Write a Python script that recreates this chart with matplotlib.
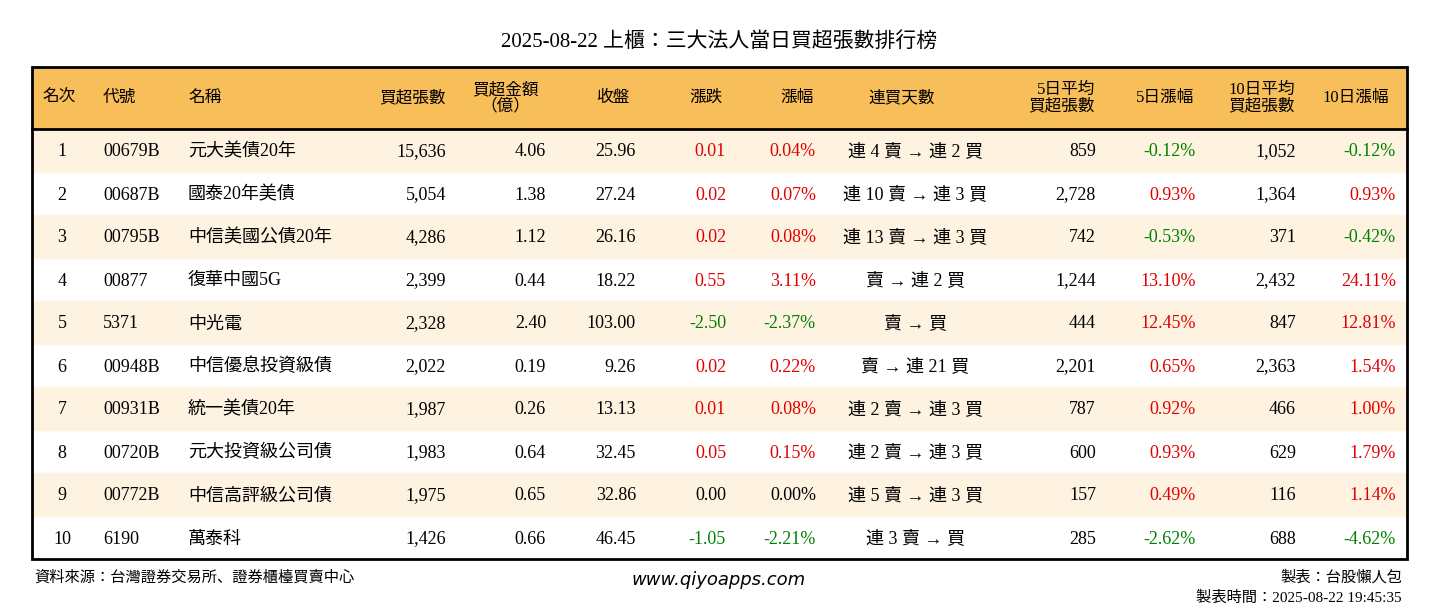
import matplotlib.pyplot as plt
from matplotlib.patches import Rectangle

ranks = [1, 2, 3, 4, 5, 6, 7, 8, 9, 10]
codes = ["00679B", "00687B", "00795B", "00877", "5371", "00948B", "00931B", "00720B", "00772B", "6190"]
names = ["元大美債20年", "國泰20年美債", "中信美國公債20年", "復華中國5G", "中光電",
         "中信優息投資級債", "統一美債20年", "元大投資級公司債", "中信高評級公司債", "萬泰科"]
net_buy = [15636, 5054, 4286, 2399, 2328, 2022, 1987, 1983, 1975, 1426]
amount = [4.06, 1.38, 1.12, 0.44, 2.40, 0.19, 0.26, 0.64, 0.65, 0.66]
close = [25.96, 27.24, 26.16, 18.22, 103.00, 9.26, 13.13, 32.45, 32.86, 46.45]
change = [0.01, 0.02, 0.02, 0.55, -2.50, 0.02, 0.01, 0.05, 0.00, -1.05]
pct = [0.04, 0.07, 0.08, 3.11, -2.37, 0.22, 0.08, 0.15, 0.00, -2.21]
streak = ["連 4 賣 → 連 2 買", "連 10 賣 → 連 3 買", "連 13 賣 → 連 3 買", "賣 → 連 2 買", "賣 → 買",
          "賣 → 連 21 買", "連 2 賣 → 連 3 買", "連 2 賣 → 連 3 買", "連 5 賣 → 連 3 買", "連 3 賣 → 買"]
avg5 = [859, 2728, 742, 1244, 444, 2201, 787, 600, 157, 285]
pct5 = [-0.12, 0.93, -0.53, 13.10, 12.45, 0.65, 0.92, 0.93, 0.49, -2.62]
avg10 = [1052, 1364, 371, 2432, 847, 2363, 466, 629, 116, 688]
pct10 = [-0.12, 0.93, -0.42, 24.11, 12.81, 1.54, 1.00, 1.79, 1.14, -4.62]

plt.rcParams["font.family"] = ["Liberation Serif", "Noto Sans CJK JP"]

W, H = 1438, 612
fig = plt.figure(figsize=(W / 100, H / 100), dpi=100)
ax = fig.add_axes([0, 0, 1, 1])
ax.set_xlim(0, W)
ax.set_ylim(H, 0)
ax.axis("off")

x0, x1 = 32, 1407
top, head_bot, row_h = 67, 129, 43


def color(v):
    if v > 0:
        return "#e00000"
    if v < 0:
        return "#008000"
    return "black"


ax.add_patch(Rectangle((x0, top), x1 - x0, head_bot - top, color="#f8be5a", zorder=0))
for i in range(len(ranks)):
    if i % 2 == 0:
        ax.add_patch(Rectangle((x0, head_bot + i * row_h), x1 - x0, row_h, color="#fdf3e0", zorder=0))
bottom = head_bot + len(ranks) * row_h
ax.add_patch(Rectangle((x0, top), x1 - x0, bottom - top, fill=False, lw=2, ec="black", zorder=3))
ax.plot([x0, x1], [head_bot, head_bot], color="black", lw=2)

hy = (top + head_bot) / 2
hs = 12
headers = [
    (42, "名次", "left"), (103, "代號", "left"), (188, "名稱", "left"),
    (446, "買超張數", "right"), (505, "買超金額\n（億）", "center"), (613, "收盤", "center"),
    (706, "漲跌", "center"), (797, "漲幅", "center"), (902, "連買天數", "center"),
    (1095, "5日平均\n買超張數", "right"), (1165, "5日漲幅", "center"),
    (1295, "10日平均\n買超張數", "right"), (1356, "10日漲幅", "center"),
]
for x, t, ha in headers:
    ax.text(x, hy, t, ha=ha, va="center", fontsize=hs, linespacing=1.0)

fs = 13


def cell(x, y, t, ha, c="black"):
    ax.text(x, y + 6, t, ha=ha, va="baseline", fontsize=fs, color=c)


for i in range(len(ranks)):
    y = head_bot + (i + 0.5) * row_h
    cell(62, y, str(ranks[i]), "center")
    cell(103, y, codes[i], "left")
    cell(188, y, names[i], "left")
    cell(446, y, f"{net_buy[i]:,}", "right")
    cell(546, y, f"{amount[i]:.2f}", "right")
    cell(636, y, f"{close[i]:.2f}", "right")
    cell(726, y, f"{change[i]:.2f}", "right", color(change[i]))
    cell(816, y, f"{pct[i]:.2f}%", "right", color(pct[i]))
    cell(915, y, streak[i], "center")
    cell(1096, y, f"{avg5[i]:,}", "right")
    cell(1196, y, f"{pct5[i]:.2f}%", "right", color(pct5[i]))
    cell(1296, y, f"{avg10[i]:,}", "right")
    cell(1396, y, f"{pct10[i]:.2f}%", "right", color(pct10[i]))

ax.text(W / 2, 42, "2025-08-22 上櫃：三大法人當日買超張數排行榜", ha="center", va="center", fontsize=15)
ax.text(34, 577, "資料來源：台灣證券交易所、證券櫃檯買賣中心", ha="left", va="center", fontsize=11)
ax.text(719, 580, "www.qiyoapps.com", ha="center", va="center", fontsize=13,
        fontfamily="DejaVu Sans", style="italic")
ax.text(1402, 577, "製表：台股懶人包", ha="right", va="center", fontsize=11)
ax.text(1402, 598, "製表時間：2025-08-22 19:45:35", ha="right", va="center", fontsize=11)

fig.savefig("out.png", dpi=100)
